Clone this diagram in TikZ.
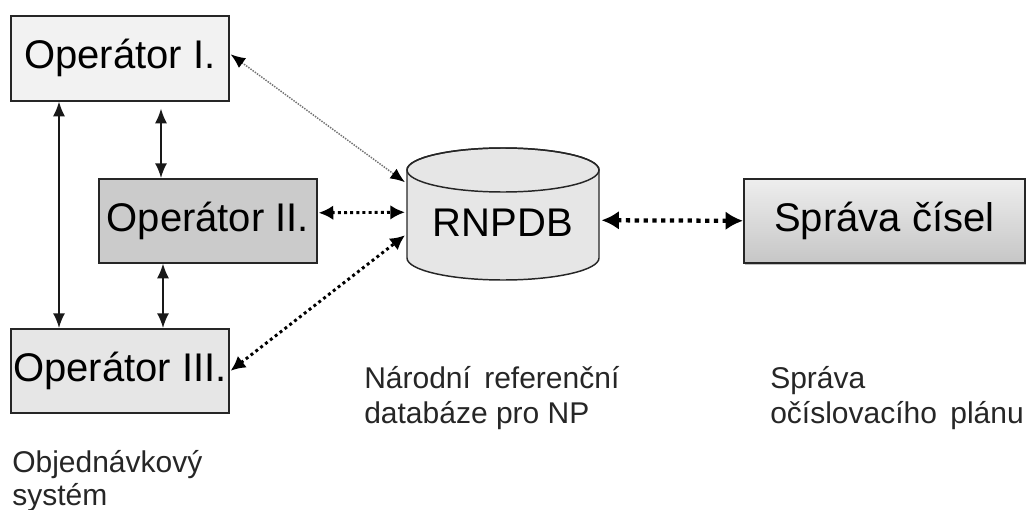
\documentclass[tikz,border=0pt]{standalone}
\usepackage{fontspec}
\setmainfont{Liberation Sans}
\usetikzlibrary{arrows.meta,calc,shadows}
\definecolor{opone}{HTML}{F2F2F2}
\definecolor{optwo}{HTML}{CBCBCB}
\definecolor{opthree}{HTML}{E6E6E6}
\definecolor{dbfill}{HTML}{E6E6E6}
\definecolor{sprtop}{HTML}{EEEEEE}
\definecolor{sprbot}{HTML}{C6C6C6}
\begin{document}
\begin{tikzpicture}[x=0.75pt,y=-0.75pt,
  box/.style={draw=black!85, line width=1.2pt, inner sep=0pt, anchor=north west,
    minimum width=163.5pt, minimum height=63pt, font=\fontsize{30}{36}\selectfont},
  lbl/.style={anchor=base west, inner sep=0pt, text=black!85, font=\fontsize{22.5}{27}\selectfont},
  solidarrow/.style={line width=1.2pt, draw=black!90, {Latex[length=11pt,width=9pt]}-{Latex[length=11pt,width=9pt]}},
  thindot/.style={line width=1.1pt, draw=black!55, dash pattern=on 1.1pt off 0.9pt,
    {Latex[length=11pt,width=9pt,color=black]}-{Latex[length=11pt,width=9pt,color=black]}},
  thickdot/.style={line width=2.2pt, draw=black, dash pattern=on 2.2pt off 2.4pt,
    {Latex[length=11pt,width=11pt]}-{Latex[length=11pt,width=11pt]}},
  bigdot/.style={line width=3.2pt, draw=black, dash pattern=on 3.2pt off 3.4pt,
    {Latex[length=13pt,width=14pt]}-{Latex[length=13pt,width=14pt]}}
]
\useasboundingbox (0,0) rectangle (1032,510);

% operator boxes
\node[box, fill=opone, minimum height=63.75pt] (op1) at (10,15) {Operátor I.};
\node[box, fill=optwo] (op2) at (98,178) {Operátor II.};
\node[box, fill=opthree] (op3) at (10,328) {Operátor III.};

% database cylinder
\node[draw=none, inner sep=0pt, anchor=north west, minimum width=144pt, minimum height=99pt] (db) at (407,148) {};
\filldraw[fill=dbfill, draw=black!85, line width=1.1pt]
  (407,170) -- (407,258) arc[start angle=180, end angle=0, x radius=96, y radius=22]
  -- (599,170) arc[start angle=0, end angle=-180, x radius=96, y radius=22] -- cycle;
\draw[black!85, line width=1.1pt] (503,170) ellipse[x radius=96, y radius=22];
\node[font=\fontsize{30}{36}\selectfont, inner sep=0pt] (dbtext) at (503,223) {RNPDB};

% sprava cisel box
\node[box, minimum width=210.75pt, top color=sprtop, bottom color=sprbot,
  drop shadow={shadow xshift=1.2pt, shadow yshift=-1.8pt, opacity=0.25, fill=black}] (spr) at (743,178) {Správa čísel};

% solid arrows between operators
\draw[solidarrow] ($(op1.south west)+(49,0)$) -- ($(op3.north west)+(49,0)$);
\draw[solidarrow] ($(op1.south west)+(151,7)$) -- ($(op2.north west)+(63,0)$);
\draw[solidarrow] ($(op2.south west)+(65,0)$) -- ($(op3.north west)+(153,0)$);

% dotted arrows to the database
\draw[thindot] ($(op1.east)+(1,-4)$) -- ($(db.west)+(-2,-32)$);
\draw[thickdot] ($(op2.east)+(1,-8)$) -- ($(db.west)+(-2,-2)$);
\draw[thickdot] ($(op3.east)+(1,0)$) -- ($(db.west)+(-2,21)$);
\draw[bigdot] ($(db.east)+(2,6)$) -- (spr.west);

% labels
\node[lbl] (l1a) at (364,388) {Národní\, referenční};
\node[lbl] (l1b) at (364,423) {databáze pro NP};
\node[lbl] (l2a) at (770,388) {Správa};
\node[lbl] (l2b) at (770,423) {očíslovacího\, plánu};
\node[lbl] (l3a) at (12,472) {Objednávkový};
\node[lbl] (l3b) at (12,505) {systém};
\end{tikzpicture}
\end{document}
